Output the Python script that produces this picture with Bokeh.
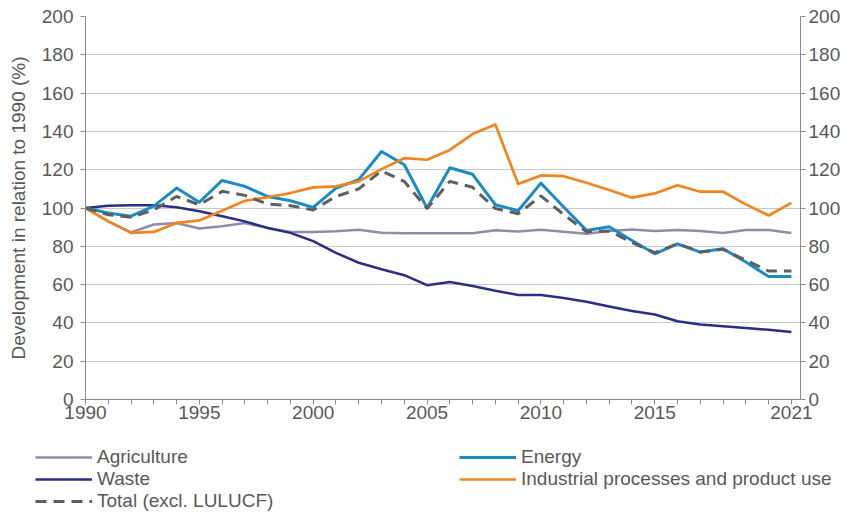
from bokeh.plotting import figure
from bokeh.layouts import column
from bokeh.models import (LinearAxis, FixedTicker, Legend, LegendItem, Range1d)
from bokeh.embed import file_html
from bokeh.resources import INLINE

years = list(range(1990, 2022))
agriculture = [100, 93, 87.3, 91.4, 92.2, 89.3, 90.5, 92.2, 89.6, 87.5,
               87.5, 87.8, 88.7, 87.1, 86.8, 86.8, 86.8, 86.8, 88.4, 87.7,
               88.6, 87.6, 86.5, 88.0, 88.8, 88.0, 88.5, 88.0, 87.0, 88.5,
               88.5, 87.0]
energy = [100, 97.4, 95.7, 101, 110.4, 103, 114.4, 111.3, 106, 103.8,
          100.3, 110.4, 114.8, 129.5, 122.6, 100, 121, 117.6, 101.7, 98.6,
          113, 100.5, 88.3, 90.2, 83, 76.1, 81.3, 77, 78.7, 71.8,
          64.2, 64.2]
waste = [100, 101.2, 101.4, 101.4, 100.4, 98.3, 95.7, 93, 89.6, 87,
         82.7, 76.6, 71.4, 68, 64.9, 59.7, 61.4, 59.3, 56.8, 54.6,
         54.6, 53, 51, 48.6, 46.2, 44.4, 40.9, 39.2, 38.2, 37.3,
         36.4, 35.2]
industrial = [100, 93, 87, 87.5, 92.2, 93.5, 98.6, 103.8, 105.6, 107.8,
              110.8, 111.3, 113.9, 120.3, 126, 125.2, 130.3, 138.6, 143.6, 112.5,
              117, 116.6, 113.2, 109.4, 105.4, 107.6, 111.9, 108.5, 108.5, 101.9,
              96.1, 102.7]
total = [100, 96.5, 95.2, 99, 106, 101.7, 108.7, 106.6, 102, 101.2,
         99, 106, 110, 119.4, 113.9, 99.7, 113.9, 110.8, 99.7, 97,
         106.3, 96.6, 87.6, 88, 82, 76.7, 81.3, 77, 78.4, 72.7,
         67.1, 67.1]

labels = ["Agriculture", "Energy", "Waste", "Industrial processes and product use",
          "Total (excl. LULUCF)"]
x_labeled = [1990, 1995, 2000, 2005, 2010, 2015, 2021]
y_ticks = list(range(0, 201, 20))
y_title = "Development in relation to 1990 (%)"

FONT = "Liberation Sans"
TXT = "#595959"
AX = "#8c8c8c"

SERIES = {
    "agr": (agriculture, dict(line_color="#8e8ca8", line_width=2.5, line_join="round")),
    "waste": (waste, dict(line_color="#2b2e84", line_width=2.5, line_join="round")),
    "en": (energy, dict(line_color="#1a8bc3", line_width=3, line_join="round")),
    "ind": (industrial, dict(line_color="#f2841f", line_width=2.7, line_join="round")),
    "tot": (total, dict(line_color="#5f5f5f", line_width=3, line_dash="11 7")),
}

W = 843
p = figure(width=W, height=430, output_backend="svg", toolbar_location=None,
           x_range=Range1d(1990, 2021.4), y_range=Range1d(0, 200),
           min_border_left=85, min_border_right=43, min_border_top=16,
           min_border_bottom=31, y_axis_label=y_title)
p.outline_line_color = None
p.background_fill_color = "white"
p.border_fill_color = "white"

xa = p.xaxis[0]
xa.ticker = FixedTicker(ticks=years)
xa.major_label_overrides = {y: ("" if y not in x_labeled else str(y)) for y in years}
ya = p.yaxis[0]
ya.ticker = FixedTicker(ticks=y_ticks)
ra = LinearAxis(ticker=FixedTicker(ticks=y_ticks))
p.add_layout(ra, "right")

for ax in (xa, ya, ra):
    ax.axis_line_color = AX
    ax.axis_line_width = 1
    ax.major_tick_line_color = AX
    ax.major_tick_out = 5
    ax.major_tick_in = 0
    ax.minor_tick_line_color = None
    ax.major_label_text_font = FONT
    ax.major_label_text_font_size = "19px"
    ax.major_label_text_color = TXT
xa.major_label_standoff = 1
ya.major_label_standoff = 7
ra.major_label_standoff = 3
ya.axis_label_text_font = FONT
ya.axis_label_text_font_size = "19px"
ya.axis_label_text_font_style = "normal"
ya.axis_label_text_color = TXT
ya.axis_label_standoff = 10

p.xgrid.grid_line_color = None
p.ygrid.ticker = FixedTicker(ticks=y_ticks)
p.ygrid.grid_line_color = "#c8c8c8"
p.ygrid.grid_line_width = 1

for key in ["agr", "waste", "en", "ind", "tot"]:
    vals, st = SERIES[key]
    p.line(years, vals, **st)

# legend panel below the chart (its data lie outside its visible range)
LH = 82
q = figure(width=W, height=LH, output_backend="svg", toolbar_location=None,
           x_range=Range1d(0, 1), y_range=Range1d(0, 1),
           min_border_left=0, min_border_right=0, min_border_top=0, min_border_bottom=0)
q.frame_align = False
q.axis.visible = False
q.grid.visible = False
q.outline_line_color = None
q.background_fill_color = "white"
q.border_fill_color = "white"
lr = {k: q.line(years, v, **st) for k, (v, st) in SERIES.items()}

def make_legend(items, loc):
    lg = Legend(items=items, location=loc, orientation="vertical")
    lg.padding = 0
    lg.margin = 0
    lg.spacing = 0
    lg.border_line_color = None
    lg.background_fill_alpha = 0
    lg.glyph_width = 57
    lg.glyph_height = 22
    lg.label_height = 22
    lg.label_standoff = 5
    lg.label_text_font = FONT
    lg.label_text_font_size = "19px"
    lg.label_text_color = TXT
    return lg

leg1 = make_legend([LegendItem(label=labels[0], renderers=[lr["agr"]]),
                    LegendItem(label=labels[2], renderers=[lr["waste"]]),
                    LegendItem(label=labels[4], renderers=[lr["tot"]])], (35, 0))
leg2 = make_legend([LegendItem(label=labels[1], renderers=[lr["en"]]),
                    LegendItem(label=labels[3], renderers=[lr["ind"]])], (459, 22))
q.add_layout(leg1)
q.add_layout(leg2)

open("out.html", "w").write(file_html(column(p, q, spacing=0), INLINE))
